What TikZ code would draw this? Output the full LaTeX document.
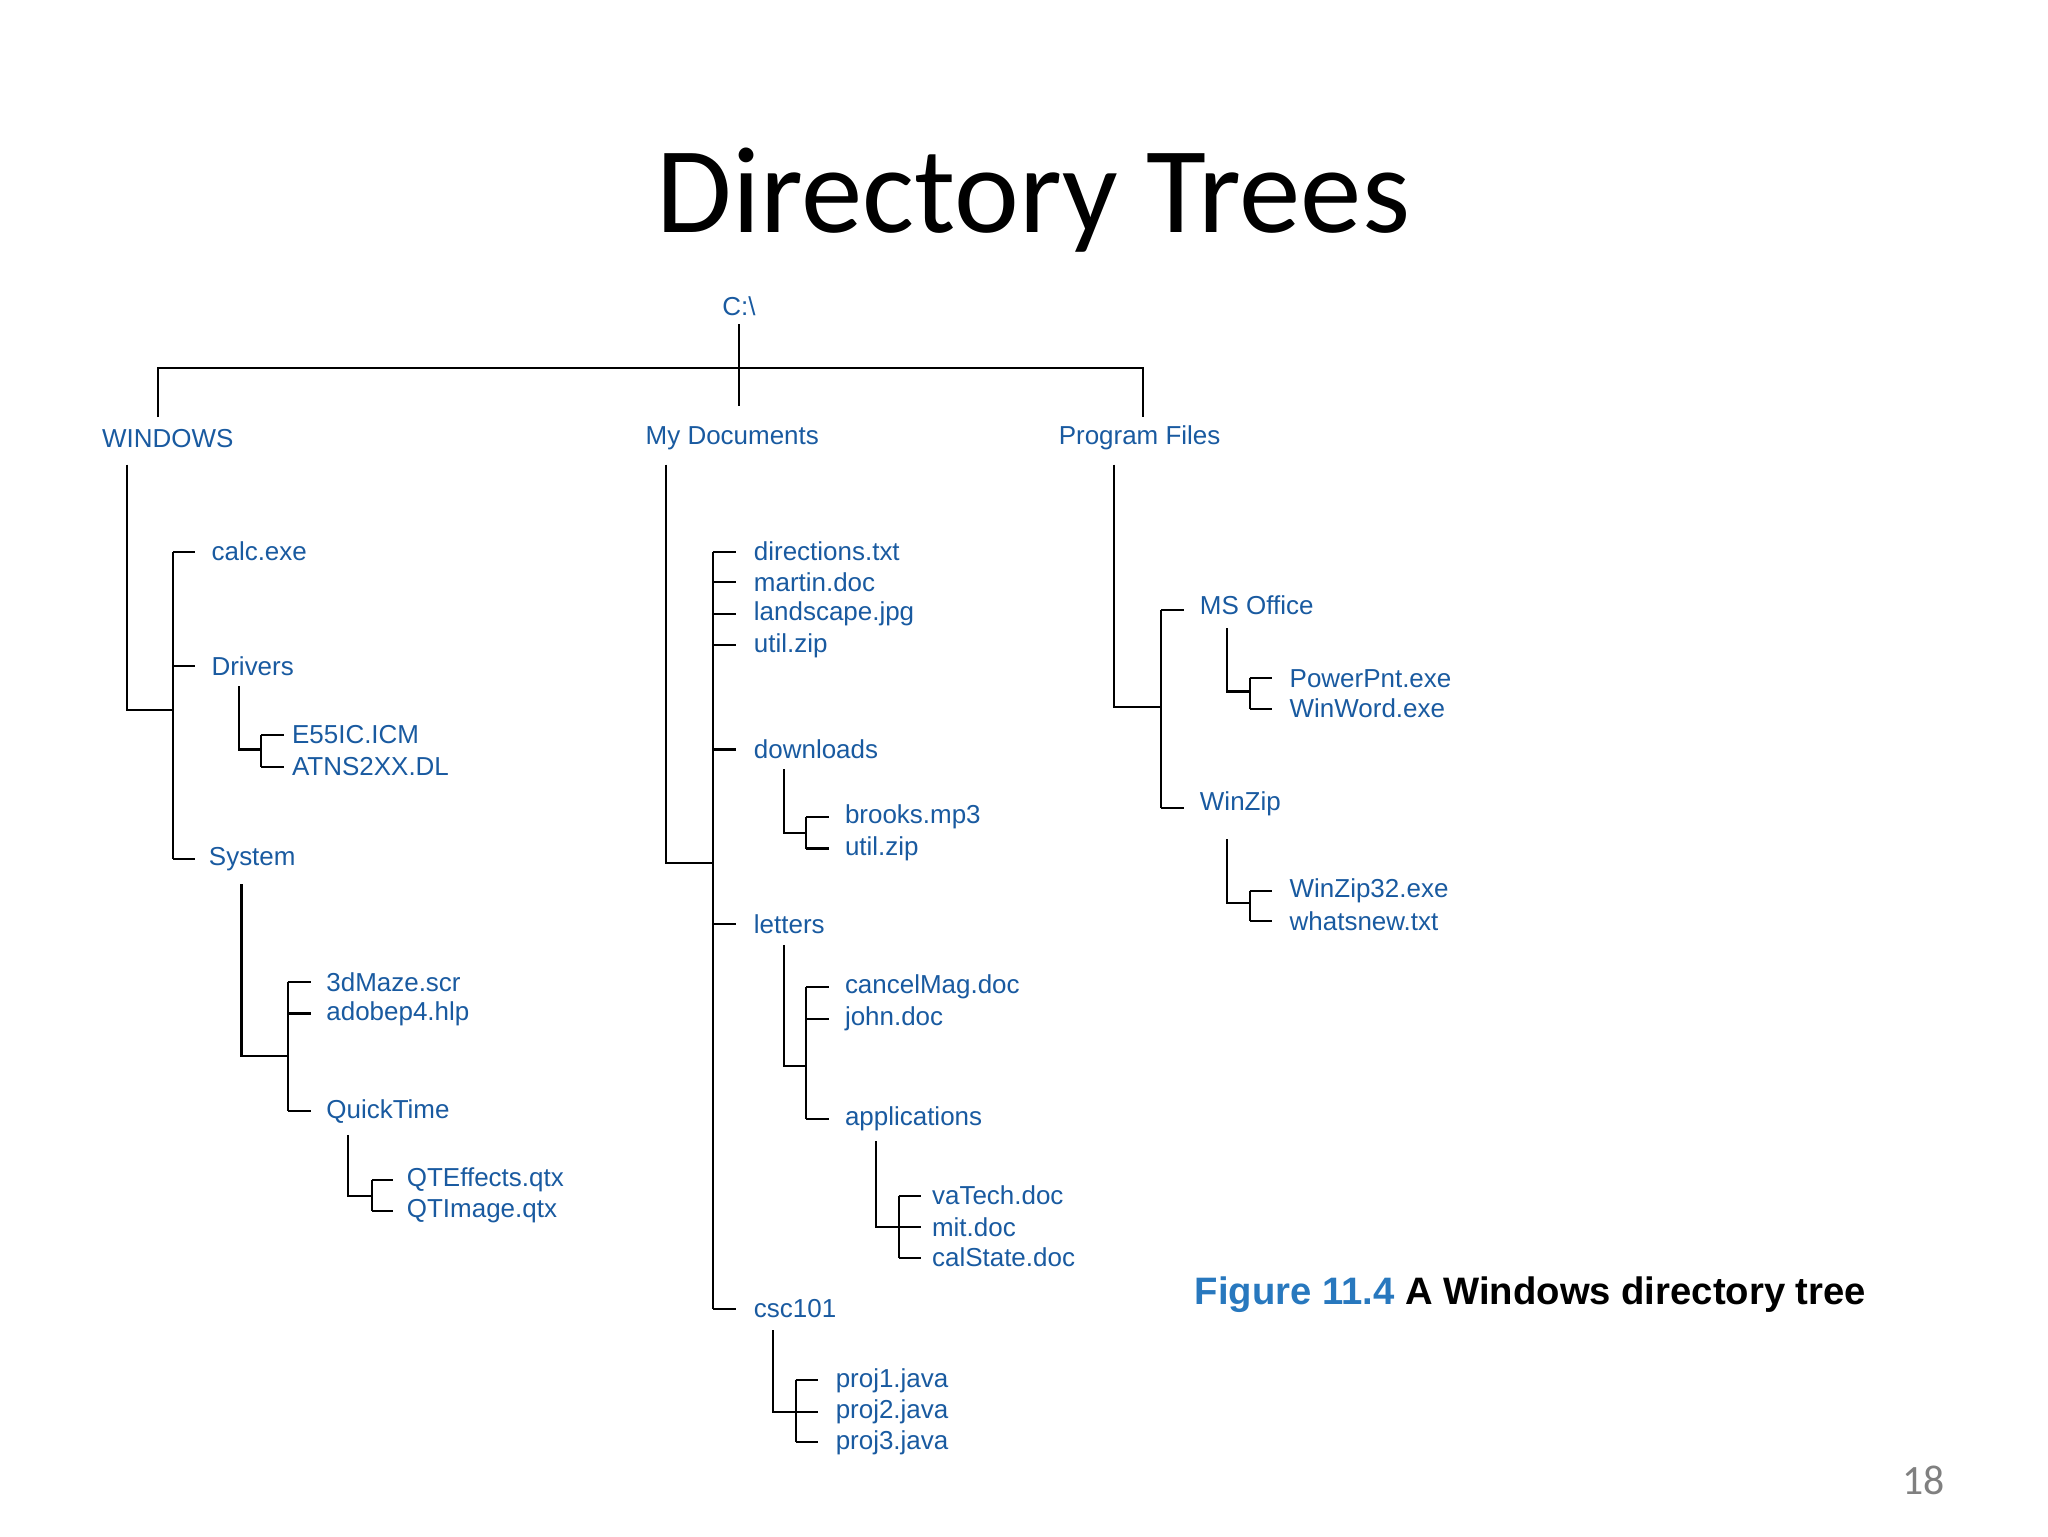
\documentclass[tikz,border=0pt]{standalone}
\usepackage{fontspec}
\setmainfont{Liberation Sans}
\newfontfamily\titlefont{Carlito}
\definecolor{tblue}{RGB}{25,90,160}
\definecolor{capblue}{RGB}{40,120,190}
\begin{document}
\begin{tikzpicture}[x=0.02cm,y=-0.02cm,
  f/.style={anchor=west,inner sep=0pt,text=tblue,font=\fontsize{11.2}{13}\selectfont},
  ln/.style={line width=0.9pt,black}]
\useasboundingbox (0,0) rectangle (1552,1164);
\node[font=\titlefont\fontsize{53}{60}\selectfont] (title) at (783,152) {Directory Trees};
\node[f,anchor=center] (c) at (560,232) {C:\textbackslash};
% level 1
\node[f] (win) at (77,332) {WINDOWS};
\node[f] (mydoc) at (489,332) {My Documents};
\node[f] (prog) at (802,332) {Program Files};
\draw[ln] (c.south) ++(0,6) -- (560,308);
\draw[ln] (120,316) -- (120,279) -- (866,279) -- (866,316);
% WINDOWS
\foreach \n/\t/\y/\x in {calc/calc.exe/418/160, drv/Drivers/505/160, sys/System/651/158}
  {\node[f] (\n) at (\x,\y) {\t}; \draw[ln] (131,\y) -- (148,\y);}
\draw[ln] (96,352) -- (96,538) -- (131,538);
\draw[ln] (131,418) -- (131,651);
\foreach \n/\t/\y in {e55/E55IC.ICM/557, atn/ATNS2XX.DL/581}
  {\node[f] (\n) at (221,\y) {\t}; \draw[ln] (198,\y) -- (215,\y);}
\draw[ln] (181,520) -- (181,568) -- (198,568); \draw[ln] (198,557) -- (198,581);
\foreach \n/\t/\y in {maze/3dMaze.scr/744, ado/adobep4.hlp/768, qt/QuickTime/842}
  {\node[f] (\n) at (247,\y) {\t}; \draw[ln] (218,\y) -- (236,\y);}
\draw[ln] (183,670) -- (183,800) -- (218,800); \draw[ln] (218,744) -- (218,842);
\foreach \n/\t/\y in {qte/QTEffects.qtx/894, qti/QTImage.qtx/918}
  {\node[f] (\n) at (308,\y) {\t}; \draw[ln] (282,\y) -- (298,\y);}
\draw[ln] (264,860) -- (264,906) -- (282,906); \draw[ln] (282,894) -- (282,918);
% My Documents
\foreach \n/\t/\y in {dir/directions.txt/418, mar/martin.doc/441, lan/landscape.jpg/465, uz/util.zip/489, dl/downloads/568, let/letters/700, csc/csc101/992}
  {\node[f] (\n) at (571,\y) {\t}; \draw[ln] (540,\y) -- (558,\y);}
\draw[ln] (505,352) -- (505,654) -- (540,654); \draw[ln] (540,418) -- (540,992);
\foreach \n/\t/\y in {bro/brooks.mp3/619, uz2/util.zip/643}
  {\node[f] (\n) at (640,\y) {\t}; \draw[ln] (611,\y) -- (628,\y);}
\draw[ln] (594,583) -- (594,631) -- (611,631); \draw[ln] (611,619) -- (611,643);
\foreach \n/\t/\y in {can/cancelMag.doc/748, joh/john.doc/772, app/applications/848}
  {\node[f] (\n) at (640,\y) {\t}; \draw[ln] (611,\y) -- (628,\y);}
\draw[ln] (594,716) -- (594,808) -- (611,808); \draw[ln] (611,748) -- (611,848);
\foreach \n/\t/\y in {vat/vaTech.doc/906, mit/mit.doc/930, cal/calState.doc/953}
  {\node[f] (\n) at (706,\y) {\t}; \draw[ln] (681,\y) -- (698,\y);}
\draw[ln] (664,865) -- (664,930) -- (681,930); \draw[ln] (681,906) -- (681,953);
\foreach \n/\t/\y in {p1/proj1.java/1046, p2/proj2.java/1070, p3/proj3.java/1093}
  {\node[f] (\n) at (633,\y) {\t}; \draw[ln] (603,\y) -- (620,\y);}
\draw[ln] (586,1008) -- (586,1070) -- (603,1070); \draw[ln] (603,1046) -- (603,1093);
% Program Files
\foreach \n/\t/\y in {mso/MS Office/459, wz/WinZip/609}
  {\node[f] (\n) at (909,\y) {\t}; \draw[ln] (880,\y+3) -- (897,\y+3);}
\draw[ln] (844,352) -- (844,536) -- (880,536); \draw[ln] (880,462) -- (880,612);
\foreach \n/\t/\y in {pp/PowerPnt.exe/514, ww/WinWord.exe/537}
  {\node[f] (\n) at (977,\y) {\t}; \draw[ln] (947,\y) -- (964,\y);}
\draw[ln] (930,476) -- (930,524) -- (947,524); \draw[ln] (947,514) -- (947,537);
\foreach \n/\t/\y in {w32/WinZip32.exe/675, wn/whatsnew.txt/698}
  {\node[f] (\n) at (977,\y) {\t}; \draw[ln] (947,\y) -- (964,\y);}
\draw[ln] (930,636) -- (930,684) -- (947,684); \draw[ln] (947,675) -- (947,698);
% caption
\node[anchor=west,inner sep=0pt,font=\bfseries\fontsize{16.5}{20}\selectfont] (cap) at (905,981) {\textcolor{capblue}{Figure 11.4} A Windows directory tree};
\node[text=gray,font=\titlefont\fontsize{18}{20}\selectfont] (pg) at (1458,1122) {18};
\end{tikzpicture}
\end{document}
